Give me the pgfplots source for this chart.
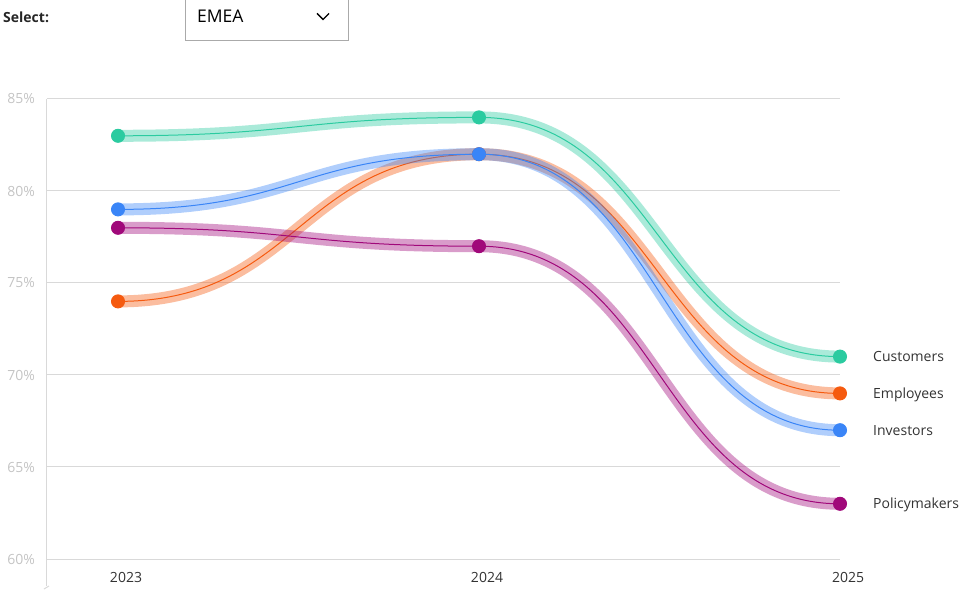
\documentclass[border=0pt]{standalone}
\usepackage{pgfplots}
\pgfplotsset{compat=1.18}
\usepackage{pgfplotstable}
\usepackage{fontspec}
\setmainfont{Open Sans}

\definecolor{cust}{HTML}{2BCBA0}
\definecolor{emp}{HTML}{F55A0F}
\definecolor{inv}{HTML}{3A85F7}
\definecolor{pol}{HTML}{A0087A}
\definecolor{gridc}{HTML}{D9D9D9}
\definecolor{ticklab}{HTML}{C4C4C4}
\definecolor{txt}{HTML}{333333}
\definecolor{boxc}{HTML}{AAAAAA}

% horizontal-tangent curve between consecutive points (like d3 curveBumpX)
\makeatletter
\newif\ifbumpfirst
\newdimen\bumpx \newdimen\bumpy
\newdimen\bumpnx \newdimen\bumpny \newdimen\bumpmx
\pgfdeclareplothandler{\pgfplothandlerbumpx}{}{%
  start={\global\bumpfirsttrue},
  jump={\global\bumpfirsttrue},
  point={%
    \pgf@process{##1}%
    \global\bumpnx=\pgf@x \global\bumpny=\pgf@y
    \ifbumpfirst
      \pgfpathmoveto{\pgfqpoint{\bumpnx}{\bumpny}}%
      \global\bumpfirstfalse
    \else
      \bumpmx=\bumpx \advance\bumpmx by \bumpnx \divide\bumpmx by 2
      \pgfpathcurveto{\pgfqpoint{\bumpmx}{\bumpy}}{\pgfqpoint{\bumpmx}{\bumpny}}{\pgfqpoint{\bumpnx}{\bumpny}}%
    \fi
    \global\bumpx=\bumpnx \global\bumpy=\bumpny
  },
  end={}
}
\tikzset{bump x/.code={\let\tikz@plot@handler=\pgfplothandlerbumpx}}
\makeatother

\pgfplotstableread{
year cust emp inv pol
2023 83 74 79 78
2024 84 82 82 77
2025 71 69 67 63
}\scores

\tikzset{
  band/.style={bump x, no marks, line width=12bp, draw opacity=0.4},
  thin/.style={bump x, line width=1bp, mark=*, mark size=6.5bp, mark options={solid}},
  lab/.style={anchor=base west, inner sep=0pt, text=txt, xshift=33bp, yshift=-5bp},
}

\begin{document}
\begin{tikzpicture}[font=\fontsize{14bp}{16bp}\selectfont]
\begin{axis}[
  scale only axis, width=793bp, height=460bp,
  xmin=2022.8033, xmax=2025, ymin=60, ymax=85,
  clip=false,
  axis line style={draw=none},
  major tick style={draw=none},
  xtick={2023,2024,2025},
  xticklabels={2023,2024,2025},
  ytick={60,65,...,85},
  yticklabel={\pgfmathprintnumber{\tick}\%},
  /pgf/number format/assume math mode=true,
  ymajorgrids, grid style={gridc, line width=1bp},
  xticklabel style={anchor=center, yshift=-18bp, xshift=8bp, text=txt},
  yticklabel style={anchor=east, inner sep=0pt, xshift=-12bp, text=ticklab},
]
\draw[gridc, line width=1bp] (rel axis cs:0,1) -- ([yshift=-27bp]rel axis cs:0,0);
\draw[gridc, line width=1bp] ([shift={(-3bp,-30bp)}]rel axis cs:0,0) -- ([shift={(2bp,-27bp)}]rel axis cs:0,0);

\addplot[band, cust] table[x=year, y=cust] {\scores};
\addplot[thin, cust] table[x=year, y=cust] {\scores};
\addplot[band, emp] table[x=year, y=emp] {\scores};
\addplot[thin, emp] table[x=year, y=emp] {\scores};
\addplot[band, inv] table[x=year, y=inv] {\scores};
\addplot[thin, inv] table[x=year, y=inv] {\scores};
\addplot[band, pol] table[x=year, y=pol] {\scores};
\addplot[thin, pol] table[x=year, y=pol] {\scores};

\node[lab] at (axis cs:2025,71) {Customers};
\node[lab] at (axis cs:2025,69) {Employees};
\node[lab] at (axis cs:2025,67) {Investors};
\node[lab] at (axis cs:2025,63) {Policymakers};
\end{axis}

\coordinate (TL) at ([shift={(-47bp,559bp)}]current axis.south west);
\node[anchor=west, inner sep=0pt, text=black!85, font=\fontsize{14bp}{16bp}\selectfont\bfseries]
  at ([shift={(3bp,-17bp)}]TL) {Select:};
\draw[boxc, line width=1bp]
  ([shift={(185.5bp,0bp)}]TL) -- ([shift={(185.5bp,-40.5bp)}]TL)
  -- ([shift={(348.5bp,-40.5bp)}]TL) -- ([shift={(348.5bp,0bp)}]TL);
\node[anchor=west, inner sep=0pt, text=black, font=\fontsize{17.5bp}{20bp}\selectfont]
  at ([shift={(197bp,-16bp)}]TL) {EMEA};
\draw[black, line width=1.4bp] ([shift={(317bp,-13.5bp)}]TL) -- ([shift={(323bp,-19.5bp)}]TL)
  -- ([shift={(329bp,-13.5bp)}]TL);

\pgfresetboundingbox
\path[use as bounding box] ([shift={(0bp,-591bp)}]TL) rectangle ([shift={(965bp,0bp)}]TL);
\end{tikzpicture}
\end{document}
